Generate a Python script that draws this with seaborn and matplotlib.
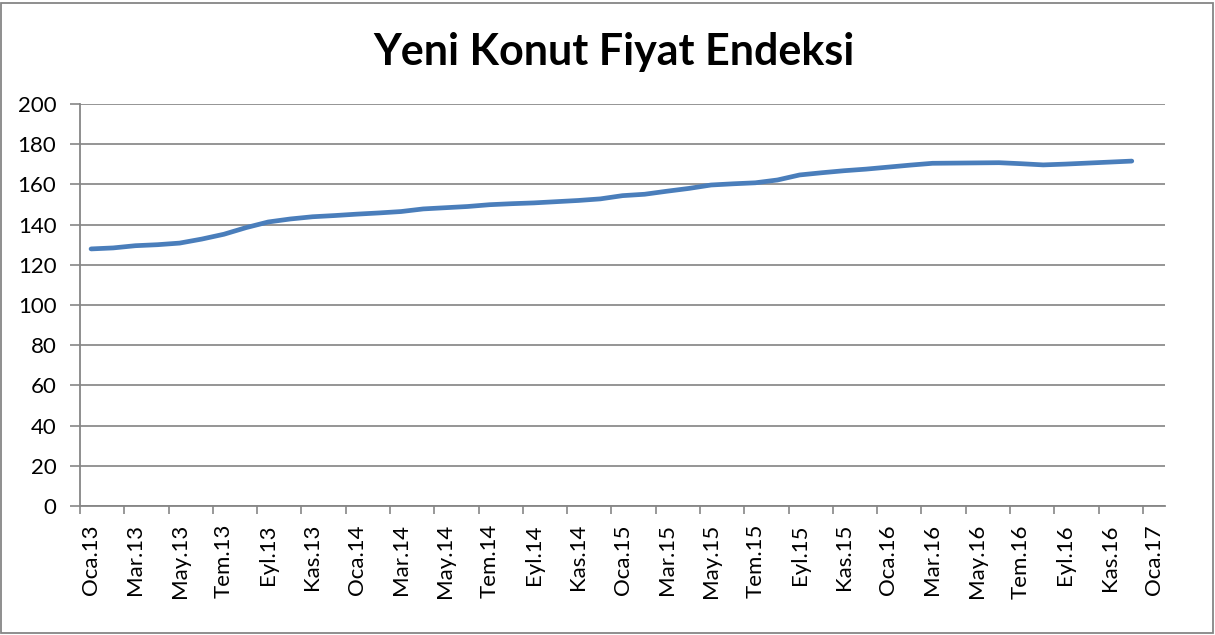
import numpy as np
import pandas as pd
import matplotlib.pyplot as plt
import seaborn as sns
from matplotlib.patches import Rectangle

# monthly index values, Oca.13 .. Ara.16
values = [
    127.9, 128.4, 129.5, 130.0, 130.8, 132.8, 135.2, 138.5, 141.3, 142.8, 143.9, 144.5,
    145.2, 145.8, 146.5, 147.8, 148.4, 149.0, 149.9, 150.4, 150.8, 151.4, 152.0, 152.8,
    154.4, 155.1, 156.6, 158.0, 159.7, 160.3, 160.8, 162.2, 164.7, 165.8, 166.8, 167.6,
    168.6, 169.6, 170.5, 170.6, 170.7, 170.8, 170.3, 169.7, 170.1, 170.6, 171.1, 171.6,
]
month_names = ["Oca", "Mar", "May", "Tem", "Eyl", "Kas"]
years = ["13", "14", "15", "16", "17"]
tick_labels = [f"{m}.{y}" for y in years for m in month_names][:25]
y_ticks = list(range(0, 201, 20))

df = pd.DataFrame({"month": np.arange(len(values)), "value": values})

sns.set_theme(style="white")
plt.rcParams["font.family"] = ["Lato", "DejaVu Sans"]

fig = plt.figure(figsize=(12.15, 6.35), dpi=100)
ax = fig.add_axes([80 / 1215, 1 - 506 / 635, (1165 - 80) / 1215, (506 - 104) / 635])

sns.lineplot(data=df, x="month", y="value", ax=ax, color="#4A7EBB", lw=3.4,
             solid_capstyle="round", solid_joinstyle="round")

ax.set_xlim(-0.5, 48.5)
ax.set_ylim(0, 200)
ax.set_yticks(y_ticks)
ax.set_yticklabels([str(v) for v in y_ticks], fontsize=16, color="black")

# major ticks on slot boundaries, labels centred on months
ax.set_xticks(np.arange(-0.5, 48.5, 2))
ax.set_xticklabels([])
ax.set_xticks(np.arange(0, 49, 2), minor=True)
ax.set_xticklabels(tick_labels, minor=True, rotation=90, fontsize=16, color="black")
ax.tick_params(axis="x", which="major", length=6, width=1.2, color="#868686", direction="out", bottom=True)
ax.tick_params(axis="x", which="minor", length=0, pad=13, bottom=True)
ax.tick_params(axis="y", length=7, width=1.2, color="#868686", direction="out", left=True, pad=10)

ax.grid(axis="y", color="#8c8c8c", lw=1.3)
ax.set_axisbelow(True)
for side in ["top", "right"]:
    ax.spines[side].set_visible(False)
for side in ["left", "bottom"]:
    ax.spines[side].set_color("#868686")
    ax.spines[side].set_linewidth(1.3)

ax.set_xlabel("")
ax.set_ylabel("")

fig.text(0.505, 1 - 52 / 635, "Yeni Konut Fiyat Endeksi", ha="center", va="center",
         fontsize=31, fontweight="bold", color="black")

fig.patches.append(Rectangle((0.001, 0.003), 0.997, 0.993, transform=fig.transFigure,
                             fill=False, edgecolor="#868686", lw=1.3))

fig.savefig("out.png", dpi=100)
